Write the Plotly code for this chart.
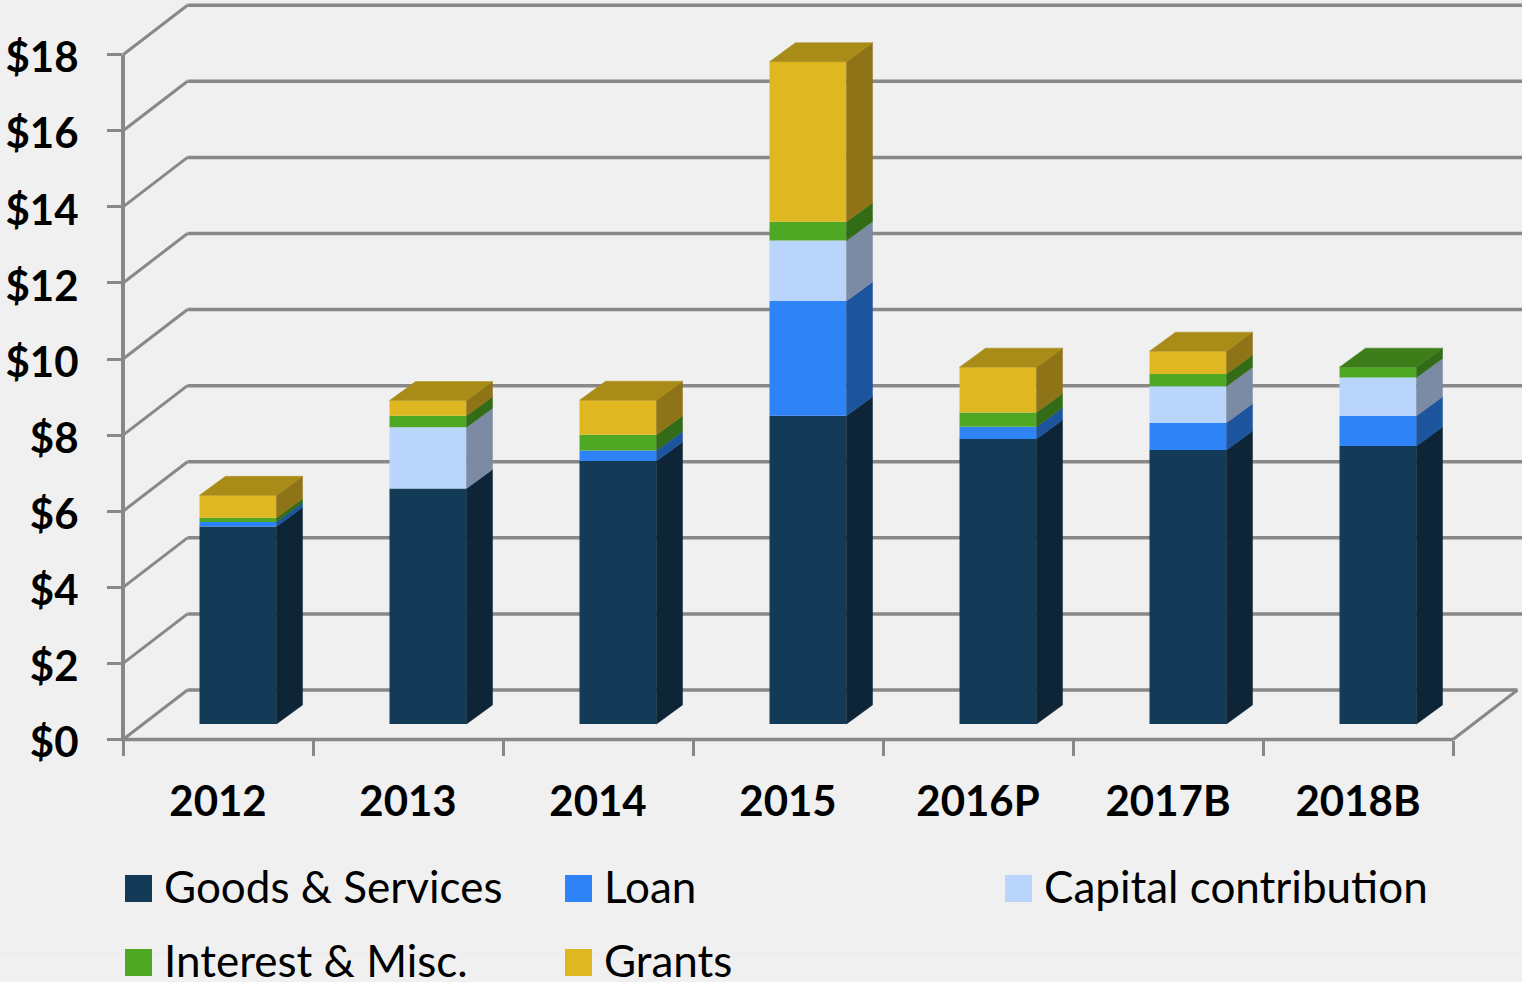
import plotly.graph_objects as go

categories = ["2012", "2013", "2014", "2015", "2016P", "2017B", "2018B"]
goods_services = [5.19, 6.19, 6.91, 8.10, 7.49, 7.20, 7.31]
loan = [0.12, 0.0, 0.28, 3.02, 0.32, 0.72, 0.79]
capital_contribution = [0.0, 1.61, 0.0, 1.59, 0.0, 0.96, 1.01]
interest_misc = [0.11, 0.30, 0.41, 0.49, 0.38, 0.32, 0.27]
grants = [0.59, 0.40, 0.91, 4.21, 1.19, 0.60, 0.0]
y_ticks = [0, 2, 4, 6, 8, 10, 12, 14, 16, 18]
y_labels = ["$0", "$2", "$4", "$6", "$8", "$10", "$12", "$14", "$16", "$18"]

series = [
    ("Goods & Services", goods_services, "#133A56", "#0D2537", "#0D2537"),
    ("Loan", loan, "#2E84F6", "#1C549E", "#1C549E"),
    ("Capital contribution", capital_contribution, "#BAD5FC", "#7A8BA3", "#9AAFCC"),
    ("Interest & Misc.", interest_misc, "#4FA823", "#336C16", "#3D7D1A"),
    ("Grants", grants, "#DFB720", "#8E7416", "#A98B17"),
]

W, H = 1522, 982
AX_L, AX_R, AX_B, AX_T = 123.0, 1453.0, 739.5, 54.7
PLOT_TOP = 20.0  # plot area runs above the $18 tick so the tallest bar's top face is not clipped
GRAY = "#888888"
TEXT_FONT = "Lato"

# 3-D projection constants (data units)
PX_X = (AX_R - AX_L) / 7
PX_Y = (AX_B - AX_T) / 18
BAR_START = (199.5 - 218) / PX_X
BAR_WIDTH = 77 / PX_X
BAR_DX = 26 / PX_X
BAR_DY = 19 / PX_Y
LIFT = (AX_B - 724) / PX_Y
WALL_DX = 64.5 / W
WALL_DY = 49.5 / H


def px(x):
    return x / W


def py(y):
    return 1 - y / H


fig = go.Figure()
xs = list(range(len(categories)))
cum = [LIFT] * len(categories)
tops = [None] * len(categories)

for name, vals, col, side, top in series:
    fig.add_trace(go.Bar(
        x=xs, y=vals, base=list(cum), offset=BAR_START, width=BAR_WIDTH,
        name=name, marker=dict(color=col, line=dict(width=0)), showlegend=False,
    ))
    sx, sy = [], []
    for i, v in enumerate(vals):
        if v <= 0:
            continue
        r = i + BAR_START + BAR_WIDTH
        sx += [r, r + BAR_DX, r + BAR_DX, r, r, None]
        sy += [cum[i], cum[i] + BAR_DY, cum[i] + v + BAR_DY, cum[i] + v, cum[i], None]
        tops[i] = (cum[i] + v, top)
        cum[i] += v
    fig.add_trace(go.Scatter(
        x=sx, y=sy, mode="lines", fill="toself", fillcolor=side,
        line=dict(width=0.5, color=side), cliponaxis=False, hoverinfo="skip", showlegend=False,
    ))

for i, (t, top) in enumerate(tops):
    l = i + BAR_START
    r = l + BAR_WIDTH
    fig.add_trace(go.Scatter(
        x=[l, l + BAR_DX, r + BAR_DX, r, l], y=[t, t + BAR_DY, t + BAR_DY, t, t],
        mode="lines", fill="toself", fillcolor=top, line=dict(width=0.5, color=top),
        cliponaxis=False, hoverinfo="skip", showlegend=False,
    ))

shapes = []
line = dict(color=GRAY, width=3.5)
diag = dict(color=GRAY, width=3)


def seg(x0, y0, x1, y1, style):
    shapes.append(dict(type="line", xref="paper", yref="paper", layer="below",
                       x0=x0, y0=y0, x1=x1, y1=y1, line=style))


seg(0, py(954), 1, py(954), dict(color="#EAEAEA", width=1))
for t in y_ticks:
    y0 = AX_B - t * PX_Y
    x1, y1 = px(AX_L) + WALL_DX, py(y0) + WALL_DY
    seg(px(AX_L), py(y0), x1, y1, diag)
    seg(x1, y1, 1 if t else px(AX_R) + WALL_DX, y1, line)
seg(px(AX_R), py(AX_B), px(AX_R) + WALL_DX, py(AX_B) + WALL_DY, diag)
seg(px(AX_L), py(AX_T), px(AX_L), py(AX_B + 1.5), dict(color=GRAY, width=4))
seg(px(AX_L - 2), py(AX_B), px(AX_R), py(AX_B), line)

annotations = []
cols = [125, 565, 1005]
rows = [875, 949]
for k, (name, vals, col, side, top) in enumerate(series):
    cx = cols[k % 3]
    ry = rows[k // 3]
    shapes.append(dict(type="rect", xref="paper", yref="paper", x0=px(cx), x1=px(cx + 27),
                       y0=py(ry + 27), y1=py(ry), fillcolor=col, line=dict(width=0)))
    annotations.append(dict(text=name, xref="paper", yref="paper", x=px(cx + 37), y=py(ry + 10.5),
                            xanchor="left", yanchor="middle", showarrow=False,
                            font=dict(family=TEXT_FONT, size=44, color="#000000")))

fig.update_layout(
    width=W, height=H, margin=dict(l=0, r=0, t=0, b=0), autosize=False,
    paper_bgcolor="#F0F0F0", plot_bgcolor="rgba(0,0,0,0)", barmode="overlay",
    showlegend=False, shapes=shapes, annotations=annotations,
    xaxis=dict(
        domain=[px(AX_L), px(AX_R)], range=[-0.5, 6.5], tickmode="array", tickvals=xs,
        ticktext=categories, ticks="", showgrid=False, zeroline=False, showline=False,
        ticklabelstandoff=33, automargin=False,
        tickfont=dict(family=TEXT_FONT, size=42, color="#000000", weight="bold"),
        minor=dict(tickmode="array", tickvals=[i - 0.5 for i in range(8)], ticks="outside",
                   ticklen=15, tickwidth=2.5, tickcolor=GRAY, showgrid=False),
    ),
    yaxis=dict(
        domain=[py(AX_B), py(PLOT_TOP)], range=[0, (AX_B - PLOT_TOP) / PX_Y], tickmode="array",
        tickvals=y_ticks, ticktext=y_labels, ticks="outside", ticklen=15, tickwidth=2.5,
        tickcolor=GRAY, showgrid=False, zeroline=False, showline=False,
        ticklabelstandoff=20, ticklabelshift=3, automargin=False,
        tickfont=dict(family=TEXT_FONT, size=42, color="#000000", weight="bold"),
    ),
)

fig.write_html("out.html", config=dict(displayModeBar=False),
               post_script="document.body.style.margin='0';document.body.style.overflow='hidden';")
